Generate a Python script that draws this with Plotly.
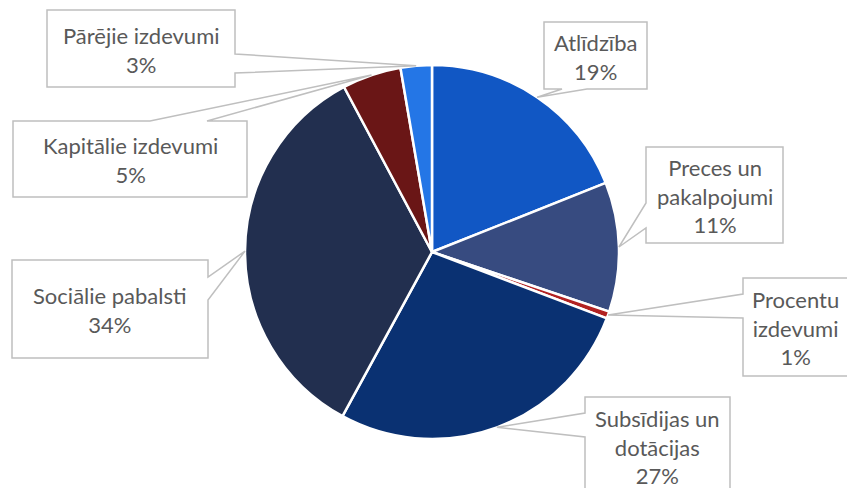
import math
import plotly.graph_objects as go

# ---- data ----
categories = ["Atlīdzība", "Preces un pakalpojumi", "Procentu izdevumi",
              "Subsīdijas un dotācijas", "Sociālie pabalsti",
              "Kapitālie izdevumi", "Pārējie izdevumi"]
label_lines = ["Atlīdzība", "Preces un<br>pakalpojumi", "Procentu<br>izdevumi",
               "Subsīdijas un<br>dotācijas", "Sociālie pabalsti",
               "Kapitālie izdevumi", "Pārējie izdevumi"]
values = [19.0, 11.2, 0.6, 27.2, 34.3, 5.1, 2.7]
pct_labels = ["19%", "11%", "1%", "27%", "34%", "5%", "3%"]
colors = ["#1157C4", "#374B80", "#B22222", "#0A3172", "#222F4F", "#6A1616", "#2476E6"]

# ---- layout geometry (pixels in the screenshot) ----
W, H = 855, 488
OFF = 8  # page body margin
CX, CY, R = 432, 252, 187

# label boxes: (left, top, right, bottom), side of wedge, wedge base (a, b)
boxes = [
    ((544, 22, 647, 89), "bottom", (562, 587)),
    ((646, 147, 783, 243), "left", (203, 228)),
    ((743, 278, 848, 376), "left", (294, 318)),
    ((585, 397, 730, 495), "left", (413, 437)),
    ((12, 260, 208, 358), "right", (277, 300)),
    ((13, 121, 247, 197), "top", (150, 207)),
    ((47, 10, 235, 87), "right", (54, 73)),
]

fig = go.Figure()
fig.add_trace(go.Pie(
    labels=categories, values=values, sort=False, direction="clockwise",
    rotation=0, marker=dict(colors=colors, line=dict(color="white", width=2.5)),
    textinfo="none", hoverinfo="label+percent", showlegend=False,
    domain=dict(x=[(CX - OFF - R) / W, (CX - OFF + R) / W],
                y=[(H - (CY - OFF) - R) / H, (H - (CY - OFF) + R) / H]),
))

total = sum(values)
cum = 0.0
shapes = []
annotations = []
for i, v in enumerate(values):
    mid = (cum + v / 2) / total * 2 * math.pi
    cum += v
    tx = CX + R * math.sin(mid)
    ty = CY - R * math.cos(mid)
    (l, t, r, b), side, (a1, a2) = boxes[i]
    if side == "right":
        path = f"M{l},{t} L{r},{t} L{r},{a1} L{tx},{ty} L{r},{a2} L{r},{b} L{l},{b} Z"
    elif side == "left":
        path = f"M{l},{t} L{r},{t} L{r},{b} L{l},{b} L{l},{a2} L{tx},{ty} L{l},{a1} Z"
    elif side == "top":
        path = f"M{l},{t} L{a1},{t} L{tx},{ty} L{a2},{t} L{r},{t} L{r},{b} L{l},{b} Z"
    else:  # bottom
        path = f"M{l},{t} L{r},{t} L{r},{b} L{a2},{b} L{tx},{ty} L{a1},{b} L{l},{b} Z"
    shapes.append(dict(type="path", path=path, xref="x", yref="y",
                       fillcolor="white", line=dict(color="#BFBFBF", width=1.5), layer="above"))
    annotations.append(dict(x=(l + r) / 2, y=(t + b) / 2 + 1, xref="x", yref="y",
                            text=f"{label_lines[i]}<br>{pct_labels[i]}", showarrow=False,
                            xanchor="center", yanchor="middle",
                            font=dict(family="Lato", size=22, color="#595959")))

fig.update_layout(
    width=W, height=H, margin=dict(l=0, r=0, t=0, b=0),
    paper_bgcolor="white", plot_bgcolor="white",
    xaxis=dict(range=[OFF, W + OFF], visible=False, fixedrange=True),
    yaxis=dict(range=[H + OFF, OFF], visible=False, fixedrange=True),
    shapes=shapes, annotations=annotations,
)
fig.write_html("out.html")
